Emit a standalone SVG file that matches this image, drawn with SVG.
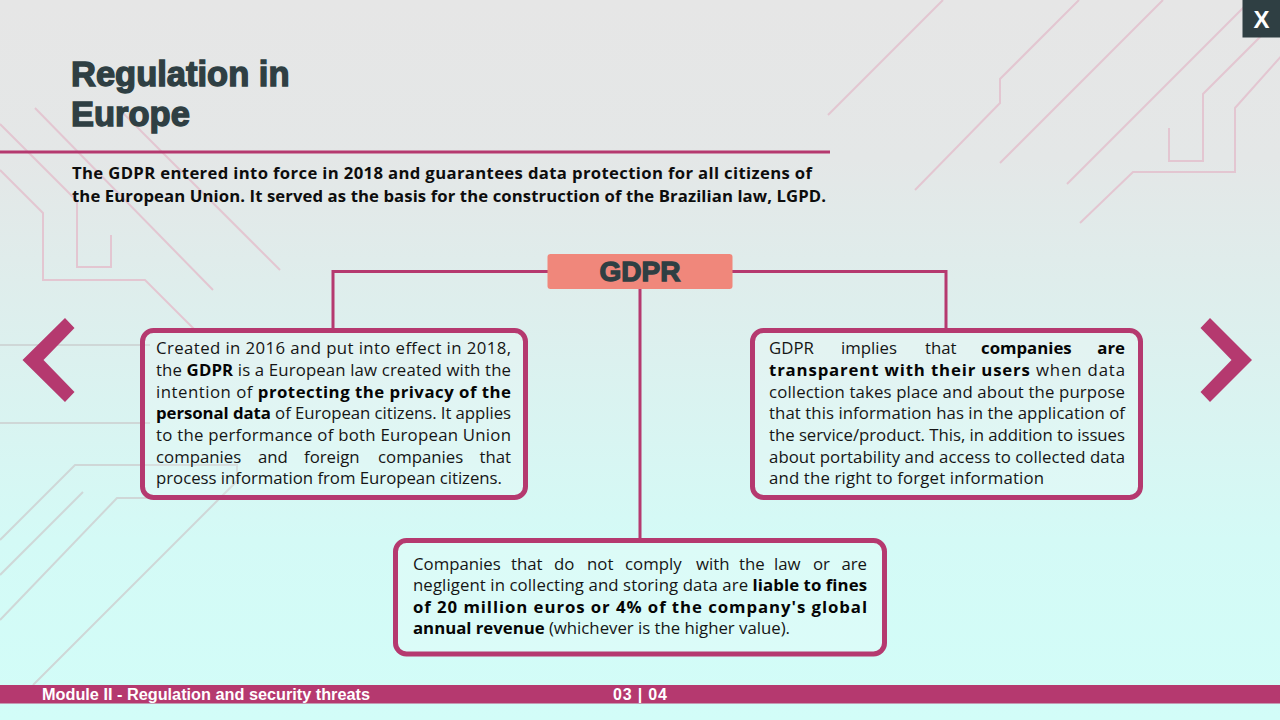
<svg xmlns="http://www.w3.org/2000/svg" width="1280" height="720" viewBox="0 0 1280 720">
  <defs>
    <linearGradient id="bg" x1="0" y1="0" x2="0" y2="1">
      <stop offset="0" stop-color="#e6e6e6"/>
      <stop offset="0.22" stop-color="#e4e7e7"/>
      <stop offset="0.75" stop-color="#d4faf6"/>
      <stop offset="1" stop-color="#d2fdf8"/>
    </linearGradient>
    <style>
      .trace-pink { fill: none; stroke: #e3c6d1; stroke-width: 2; }
      .trace-grey { fill: none; stroke: #cfd7d7; stroke-width: 2; }
      .title { font-family: "Liberation Sans", Arial, sans-serif; font-weight: 700; font-size: 34.5px; fill: #2f3f43; stroke: #2f3f43; stroke-width: 1.4; }
      .lead { font-family: "Open Sans", "Noto Sans", sans-serif; font-weight: 700; font-size: 16.7px; fill: #0d0d0d; }
      .card { fill: #ffffff; fill-opacity: 0.2; stroke: #b5396f; stroke-width: 5; }
      .body { font-family: "Open Sans", "Noto Sans", sans-serif; font-size: 16.8px; fill: #151515; }
      .b { font-weight: 700; fill: #050505; }
      .link { fill: none; stroke: #b5396f; stroke-width: 3; }
      .hub { fill: #f0877b; }
      .hub-text { font-family: "Liberation Sans", Arial, sans-serif; font-weight: 700; font-size: 28px; fill: #2f3f43; stroke: #2f3f43; stroke-width: 1.3; }
      .nav { fill: #b5396f; }
      .foot { font-family: "Liberation Sans", Arial, sans-serif; font-weight: 700; font-size: 16px; fill: #ffffff; }
    </style>
  </defs>

  <!-- page background -->
  <rect x="0" y="0" width="1280" height="720" fill="url(#bg)"/>

  <!-- circuit-board decoration -->
  <g id="decor">
    <path class="trace-pink" d="M0,124 L77,201 L77,267 L111,267 L111,235"/>
    <path class="trace-pink" d="M0,170 L43,213 L43,280 L145,280 L197,332"/>
    <path class="trace-pink" d="M35,108 L213,290"/>
    <path class="trace-pink" d="M117,107 L280,270"/>

    <path class="trace-pink" d="M828,115 L943,0"/>
    <path class="trace-pink" d="M915,190 L1000,103 L1000,79 L1079,0"/>
    <path class="trace-pink" d="M1000,163 L1163,0"/>
    <path class="trace-pink" d="M1067,184 L1251,0"/>
    <path class="trace-pink" d="M1169,128 L1169,161 L1203,161 L1203,94 L1282,15"/>
    <path class="trace-pink" d="M1080,223 L1133,172 L1235,172 L1235,108 L1285,52"/>

    <path class="trace-grey" d="M0,345 L150,345"/>
    <path class="trace-grey" d="M0,423 L150,423"/>
    <path class="trace-grey" d="M0,540 L75,465 L237,465 L237,481 L33,685"/>
    <path class="trace-grey" d="M0,575 L83,492"/>
    <path class="trace-grey" d="M0,620 L117,498 L160,498"/>
  </g>

  <!-- heading -->
  <g id="header">
    <text class="title" x="71" y="86">Regulation in</text>
    <text class="title" x="71" y="126">Europe</text>
    <rect x="0" y="150.5" width="830" height="3" fill="#b5396f"/>
    <text class="lead" x="72" y="179" textLength="740" lengthAdjust="spacing">The GDPR entered into force in 2018 and guarantees data protection for all citizens of</text>
    <text class="lead" x="72" y="201.5" textLength="754" lengthAdjust="spacing">the European Union. It served as the basis for the construction of the Brazilian law, LGPD.</text>
  </g>

  <!-- connectors from the hub to the cards -->
  <g id="connectors">
    <path class="link" d="M548,271.5 L333,271.5 L333,330"/>
    <path class="link" d="M732,271.5 L946,271.5 L946,330"/>
    <path class="link" d="M640,289 L640,540"/>
  </g>

  <g id="node-gdpr">
    <rect class="hub" x="547.5" y="254" width="185" height="35" rx="3"/>
    <text class="hub-text" x="640" y="280.5" text-anchor="middle">GDPR</text>
  </g>

  <g id="node-origin">
    <rect class="card" x="142.5" y="330.5" width="383" height="167" rx="11"/>
    <text class="body" x="156" y="354" textLength="355" lengthAdjust="spacing">Created in 2016 and put into effect in 2018,</text>
    <text class="body" x="156" y="376" textLength="355" lengthAdjust="spacing">the <tspan class="b">GDPR</tspan> is a European law created with the</text>
    <text class="body" x="156" y="397.5" textLength="355" lengthAdjust="spacing">intention of <tspan class="b">protecting the privacy of the</tspan></text>
    <text class="body" x="156" y="419" textLength="355" lengthAdjust="spacing"><tspan class="b">personal data</tspan> of European citizens. It applies</text>
    <text class="body" x="156" y="441" textLength="355" lengthAdjust="spacing">to the performance of both European Union</text>
    <text class="body" y="462.5"><tspan x="156">companies</tspan><tspan x="258">and</tspan><tspan x="304">foreign</tspan><tspan x="378">companies</tspan></text>
    <text class="body" x="511" y="462.5" text-anchor="end">that</text>
    <text class="body" x="156" y="484" textLength="346" lengthAdjust="spacing">process information from European citizens.</text>
  </g>

  <g id="node-transparency">
    <rect class="card" x="752.5" y="330.5" width="388" height="167" rx="11"/>
    <text class="body" y="354"><tspan x="769">GDPR</tspan><tspan x="841">implies</tspan><tspan x="925">that</tspan><tspan class="b" x="981">companies</tspan></text>
    <text class="body b" x="1125" y="354" text-anchor="end">are</text>
    <text class="body" x="769" y="376" textLength="356" lengthAdjust="spacing"><tspan class="b">transparent with their users</tspan> when data</text>
    <text class="body" x="769" y="397.5" textLength="356" lengthAdjust="spacing">collection takes place and about the purpose</text>
    <text class="body" x="769" y="419" textLength="356" lengthAdjust="spacing">that this information has in the application of</text>
    <text class="body" x="769" y="441" textLength="356" lengthAdjust="spacing">the service/product. This, in addition to issues</text>
    <text class="body" x="769" y="462.5" textLength="356" lengthAdjust="spacing">about portability and access to collected data</text>
    <text class="body" x="769" y="484" textLength="275" lengthAdjust="spacing">and the right to forget information</text>
  </g>

  <g id="node-fines">
    <rect class="card" x="395.5" y="540.5" width="489" height="113.5" rx="11"/>
    <text class="body" y="569.5"><tspan x="413">Companies</tspan><tspan x="511">that</tspan><tspan x="554">do</tspan><tspan x="587">not</tspan><tspan x="625">comply</tspan><tspan x="696">with</tspan><tspan x="739">the</tspan><tspan x="774">law</tspan><tspan x="813">or</tspan></text>
    <text class="body" x="867" y="569.5" text-anchor="end">are</text>
    <text class="body" x="413" y="591" textLength="454" lengthAdjust="spacing">negligent in collecting and storing data are <tspan class="b">liable to fines</tspan></text>
    <text class="body b" x="413" y="612.5" textLength="454" lengthAdjust="spacing">of 20 million euros or 4% of the company's global</text>
    <text class="body" x="413" y="634" textLength="377" lengthAdjust="spacing"><tspan class="b">annual revenue</tspan> (whichever is the higher value).</text>
  </g>

  <!-- navigation chevrons -->
  <g id="nav-prev">
    <polygon class="nav" points="65,318 22.5,360 65,402 74.5,392 43.5,360 74.5,328"/>
  </g>
  <g id="nav-next">
    <polygon class="nav" points="1210,318 1252,360 1210,402 1200.5,392 1231.5,360 1200.5,328"/>
  </g>

  <!-- close button -->
  <g id="close">
    <rect x="1242.5" y="0" width="37.5" height="37.5" fill="#2f3f43"/>
    <text x="1261.5" y="27.5" text-anchor="middle" font-family="Liberation Sans, Arial, sans-serif" font-weight="700" font-size="24" fill="#ffffff">X</text>
  </g>

  <!-- footer bar -->
  <g id="footer">
    <rect x="0" y="685" width="1280" height="18.5" fill="#b5396f"/>
    <text class="foot" x="42" y="700" textLength="328" lengthAdjust="spacingAndGlyphs">Module II - Regulation and security threats</text>
    <text class="foot" x="613" y="700" textLength="54" lengthAdjust="spacing">03 | 04</text>
  </g>
</svg>
